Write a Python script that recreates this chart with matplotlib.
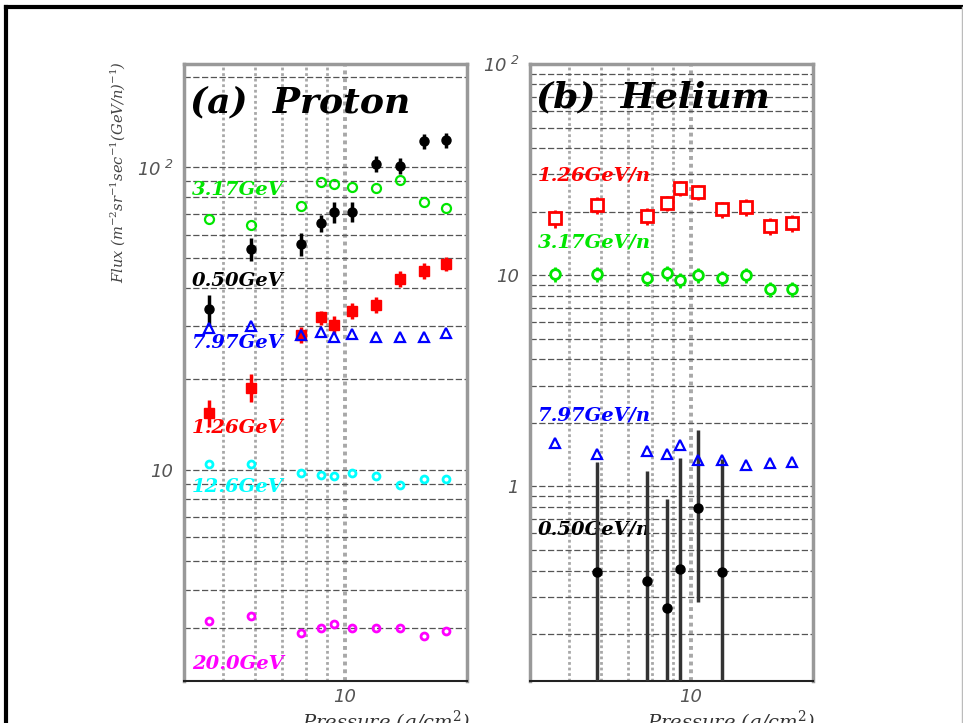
import numpy as np
import matplotlib
matplotlib.use("Agg")
import matplotlib.pyplot as plt
from matplotlib.ticker import FixedLocator, FixedFormatter, NullFormatter
from matplotlib.lines import Line2D

plt.rcParams["mathtext.fontset"] = "dejavuserif"

# Atmospheric depth of each measurement (g/cm^2)
pressure = [4.6, 5.85, 7.8, 8.7, 9.4, 10.4, 11.9, 13.7, 15.65, 17.7]

# Proton flux, m^-2 sr^-1 sec^-1 GeV^-1
p_050 = [33.9, 53.9, 56.0, 65.3, 71.0, 71.5, 103.0, 101.5, 122.0, 123.0]
p_050_err = [4.0, 4.7, 4.9, 4.1, 5.6, 5.6, 6.3, 6.2, 6.6, 6.6]
p_126 = [15.4, 18.7, 28.0, 31.9, 30.2, 33.6, 35.2, 42.9, 45.6, 48.1]
p_126_err = [1.6, 2.0, 1.7, 1.7, 2.1, 2.0, 2.2, 2.6, 2.8, 2.6]
p_317 = [67.8, 64.3, 74.3, 89.2, 88.2, 86.5, 85.8, 90.6, 76.6, 73.7]
p_797 = [29.5, 30.0, 28.0, 28.6, 27.4, 28.2, 27.4, 27.4, 27.4, 28.4]
p_1260 = [10.47, 10.47, 9.77, 9.63, 9.55, 9.77, 9.55, 8.92, 9.34, 9.34]
p_2000 = [3.16, 3.29, 2.89, 3.0, 3.09, 3.0, 3.0, 3.0, 2.82, 2.93]

# Helium flux, m^-2 sr^-1 sec^-1 (GeV/n)^-1
he_126 = [18.6, 21.5, 19.0, 21.9, 25.8, 24.7, 20.5, 21.0, 17.1, 17.6]
he_126_err = [1.8, 1.9, 1.7, 1.8, 2.1, 2.0, 1.8, 1.9, 1.6, 1.6]
he_317 = [10.1, 10.1, 9.68, 10.2, 9.47, 10.0, 9.68, 10.0, 8.58, 8.58]
he_317_err = [0.8, 0.8, 0.8, 0.8, 0.8, 0.8, 0.8, 0.8, 0.7, 0.7]
he_797 = [1.60, 1.43, 1.48, 1.43, 1.58, 1.33, 1.33, 1.26, 1.29, 1.30]
he_050_pressure = [5.85, 7.8, 8.7, 9.4, 10.4, 11.9]
he_050 = [0.395, 0.358, 0.267, 0.409, 0.795, 0.395]
he_050_err_hi = [0.905, 0.82, 0.61, 0.95, 1.05, 0.95]
he_050_err_lo = [0.905, 0.82, 0.61, 0.95, 0.51, 0.95]

x_ticks = [10]
x_tick_labels = ["10"]
p_y_ticks = [10, 100]
p_y_tick_labels = ["10", r"$\mathregular{10^{\ 2}}$"]
he_y_ticks = [1, 10, 100]
he_y_tick_labels = ["1", "10", r"$\mathregular{10^{\ 2}}$"]

W, H = 963, 723
fig = plt.figure(figsize=(W / 100, H / 100), dpi=100)

serif = "DejaVu Serif"
green = "#00e600"


def make_axes(left, ylim, yticks, yticklabels):
    ax = fig.add_axes([left / W, 1 - 681 / H, 283 / W, 617 / H])
    ax.set_xscale("log")
    ax.set_yscale("log")
    ax.set_xlim(4, 20)
    ax.set_ylim(*ylim)
    # grid: dotted verticals at 4..10, 20 and dashed horizontals at every log step
    for xv in [4, 5, 6, 7, 8, 9, 10, 20]:
        ax.axvline(xv, color="#a8a8a8", lw=2.0 if xv != 10 else 2.8,
                   ls=(0, (1, 1)), zorder=0)
    lo, hi = ylim
    for dec in [0.1, 1, 10, 100]:
        for m in range(1, 10):
            yv = m * dec
            if lo < yv < hi:
                ax.axhline(yv, color="#555555", lw=0.9, ls=(0, (5, 2)), zorder=0)
    ax.xaxis.set_major_locator(FixedLocator(x_ticks))
    ax.xaxis.set_major_formatter(FixedFormatter(x_tick_labels))
    ax.xaxis.set_minor_locator(FixedLocator([]))
    ax.xaxis.set_minor_formatter(NullFormatter())
    ax.yaxis.set_major_locator(FixedLocator(yticks))
    ax.yaxis.set_major_formatter(FixedFormatter(yticklabels))
    ax.yaxis.set_minor_locator(FixedLocator([]))
    ax.yaxis.set_minor_formatter(NullFormatter())
    ax.tick_params(axis="both", which="both", length=0, labelsize=13,
                   labelcolor="#555555", pad=8)
    ax.tick_params(axis="x", pad=5)
    for t in ax.get_xticklabels() + ax.get_yticklabels():
        t.set_fontstyle("italic")
    for sp in ["left", "right", "top"]:
        ax.spines[sp].set_color("#999999")
        ax.spines[sp].set_linewidth(2.5)
    ax.spines["bottom"].set_color("#222222")
    ax.spines["bottom"].set_linewidth(1.5)
    return ax


lab = dict(family=serif, style="italic", weight="bold", fontsize=14, va="center")
ttl = dict(family=serif, style="italic", weight="bold", fontsize=26, va="center")

# ---------- (a) Proton ----------
axp = make_axes(184, (2.0, 220.0), p_y_ticks, p_y_tick_labels)

axp.errorbar(pressure, p_050, yerr=p_050_err, fmt="o", color="black", ms=6.5,
             elinewidth=2.5, capsize=0, zorder=4)
axp.errorbar(pressure, p_126, yerr=p_126_err, fmt="s", color="red", ms=7,
             elinewidth=2.5, capsize=0, zorder=3)
axp.plot(pressure, p_317, "o", mfc="none", mec=green, ms=6.5, mew=1.6, zorder=3)
axp.plot(pressure, p_797, "^", mfc="none", mec="blue", ms=7, mew=1.6, zorder=5)
axp.plot(pressure, p_1260, "o", mfc="none", mec="cyan", ms=5, mew=2.0, zorder=3)
axp.plot(pressure, p_2000, "o", mfc="none", mec="magenta", ms=5, mew=2.0, zorder=3)

axp.text(0.028, 0.796, "3.17GeV", color=green, transform=axp.transAxes, **lab)
axp.text(0.028, 0.648, "0.50GeV", color="black", transform=axp.transAxes, **lab)
axp.text(0.028, 0.548, "7.97GeV", color="blue", transform=axp.transAxes, **lab)
axp.text(0.028, 0.410, "1.26GeV", color="red", transform=axp.transAxes, **lab)
axp.text(0.028, 0.314, "12.6GeV", color="cyan", transform=axp.transAxes, **lab)
axp.text(0.028, 0.028, "20.0GeV", color="magenta", transform=axp.transAxes, **lab)
axp.text(0.02, 0.938, "(a)  Proton", transform=axp.transAxes, **ttl)

axp.set_ylabel(r"Flux (m$^{-2}$sr$^{-1}$sec$^{-1}$(GeV/n)$^{-1}$)", family=serif,
               style="italic", fontsize=10.5, color="#444444")
axp.yaxis.set_label_coords(-0.2, 0.825)

# ---------- (b) Helium ----------
axh = make_axes(530, (0.12, 100.0), he_y_ticks, he_y_tick_labels)

he_lo = np.minimum(np.array(he_050_err_lo), np.array(he_050) * 0.999)
axh.errorbar(he_050_pressure, he_050, yerr=[he_lo, he_050_err_hi], fmt="o",
             color="black", ecolor="#333333", ms=6.5, elinewidth=2.5, capsize=0,
             zorder=4)
axh.errorbar(pressure, he_126, yerr=he_126_err, fmt="s", mfc="white", mec="red",
             ecolor="red", ms=8, mew=2.0, elinewidth=2.0, capsize=0, zorder=3)
axh.errorbar(pressure, he_317, yerr=he_317_err, fmt="o", mfc="white", mec=green,
             ecolor=green, ms=7, mew=2.0, elinewidth=2.0, capsize=0, zorder=3)
axh.plot(pressure, he_797, "^", mfc="none", mec="blue", ms=7, mew=1.6, zorder=5)

axh.text(0.028, 0.820, "1.26GeV/n", color="red", transform=axh.transAxes, **lab)
axh.text(0.028, 0.7115, "3.17GeV/n", color=green, transform=axh.transAxes, **lab)
axh.text(0.028, 0.431, "7.97GeV/n", color="blue", transform=axh.transAxes, **lab)
axh.text(0.028, 0.245, "0.50GeV/n", color="black", transform=axh.transAxes, **lab)
axh.text(0.02, 0.945, "(b)  Helium", transform=axh.transAxes, **ttl)

# x-axis titles, partly running off the bottom edge
for xr in (470, 815):
    fig.text(xr / W, 1 - 722 / H, r"Pressure (g/cm$^{2}$)", family=serif,
             style="italic", fontsize=14, color="#333333", ha="right", va="center")

# outer frame
fig.add_artist(Line2D([6 / W, 962 / W], [1 - 7 / H, 1 - 7 / H], color="black", lw=3))
fig.add_artist(Line2D([6 / W, 6 / W], [0, 1 - 7 / H], color="black", lw=3))
fig.add_artist(Line2D([962 / W, 962 / W], [0, 1 - 7 / H], color="#bbbbbb", lw=1))

fig.savefig("out.png", dpi=100)
